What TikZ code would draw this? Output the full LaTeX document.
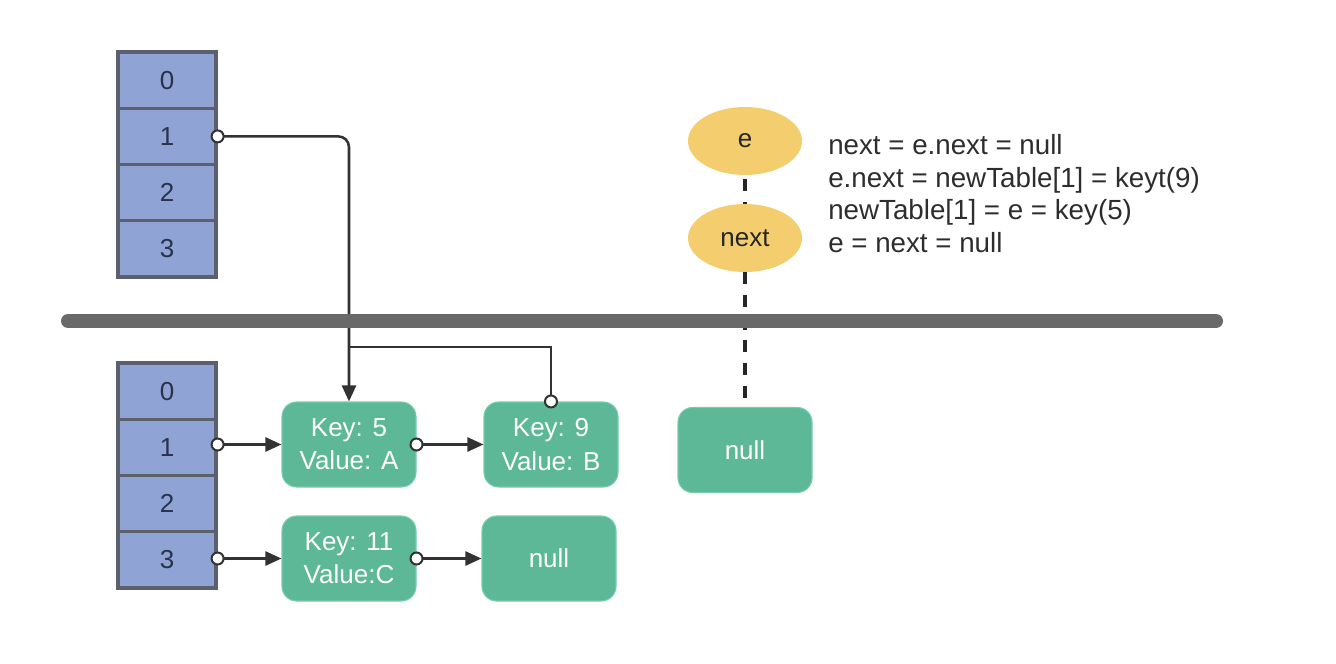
\documentclass[tikz,border=0pt]{standalone}
\usepackage{fontspec}
\setmainfont{Liberation Sans}
\usetikzlibrary{arrows.meta,shapes.geometric}
\definecolor{cellfill}{RGB}{143,163,212}
\definecolor{cellborder}{RGB}{92,96,110}
\definecolor{celltext}{RGB}{40,50,75}
\definecolor{nodefill}{RGB}{92,184,150}
\definecolor{nodeedge}{RGB}{120,205,175}
\definecolor{ellfill}{RGB}{244,206,110}
\definecolor{linec}{RGB}{50,50,50}
\definecolor{barc}{RGB}{105,105,105}
\definecolor{codetext}{RGB}{45,45,45}
\tikzset{
  cell/.style={draw=cellborder, fill=cellfill, line width=2.4pt, minimum width=73.5pt, minimum height=42.19pt, inner sep=0pt, text=celltext, font=\fontsize{19.5}{22}\selectfont},
  entry/.style={draw=nodeedge, fill=nodefill, line width=0.8pt, rounded corners=11pt, minimum width=100.5pt, minimum height=63.75pt, inner sep=0pt, text=white, align=center, font=\fontsize{19.5}{25}\selectfont},
  var/.style={ellipse, fill=ellfill, minimum width=85.5pt, minimum height=51pt, inner sep=0pt, text=black!85, font=\fontsize{19.5}{22}\selectfont},
  conn/.style={draw=linec, line width=1.9pt},
  arr/.style={conn, -{Triangle[length=12pt, width=10.5pt]}},
  dot/.style={circle, draw=linec, fill=white, line width=1.5pt, minimum size=9pt, inner sep=0pt},
  dash line/.style={draw=black!85, line width=3pt, dash pattern=on 9pt off 8pt},
}
\begin{document}
\begin{tikzpicture}[x=0.75pt,y=-0.75pt]
\useasboundingbox (0,0) rectangle (1336,664);
% top table
\node[cell] (t0) at (167,80.1) {0};
\node[cell] (t1) at (167,136.4) {1};
\node[cell] (t2) at (167,192.6) {2};
\node[cell] (t3) at (167,248.9) {3};
% bottom table
\node[cell] (b0) at (167,391.1) {0};
\node[cell] (b1) at (167,447.4) {1};
\node[cell] (b2) at (167,503.6) {2};
\node[cell] (b3) at (167,559.9) {3};
% entries
\node[entry] (k5) at (349,444.5) {Key: 5\\Value: A};
\node[entry] (k9) at (551,444.5) {Key: 9\\Value: B};
\node[entry] (k11) at (349,558.5) {Key: 11\\Value:C};
\node[entry] (n1) at (549,558.5) {null};
\node[entry] (n2) at (745,450) {null};
% variables
\node[var] (e) at (745,141) {e};
\node[var] (nx) at (745,238) {next};
% code
\node[anchor=north west, align=left, inner sep=0pt, text=codetext, font=\fontsize{20.8}{24.6}\selectfont] (code) at (828,134)
 {next = e.next = null\\e.next = newTable[1] = keyt(9)\\newTable[1] = e = key(5)\\e = next = null};
% connectors
\coordinate (j) at (349,347);
\draw[arr, rounded corners=8pt] (t1.east) -| (k5.north);
\draw[conn] (k9.north) |- (j);
\draw[arr] (b1.east |- k5.west) -- (k5.west);
\draw[arr] (k5.east) -- (k9.west);
\draw[arr] (b3.east |- k11.west) -- (k11.west);
\draw[arr] (k11.east) -- (n1.west);
\node[dot] at (t1.east) {};
\node[dot] at (k9.north) {};
\node[dot] at (b1.east |- k5.west) {};
\node[dot] at (k5.east) {};
\node[dot] at (b3.east |- k11.west) {};
\node[dot] at (k11.east) {};
% dashed links
\draw[dash line, dash phase=-3pt] (e.south) -- (nx.north);
\draw[dash line] (nx.south) -- (n2.north);
% separator bar
\coordinate (barL) at (68,321);
\coordinate (barR) at (1216,321);
\draw[barc, line width=10.5pt, line cap=round] (barL) -- (barR);
\end{tikzpicture}
\end{document}
